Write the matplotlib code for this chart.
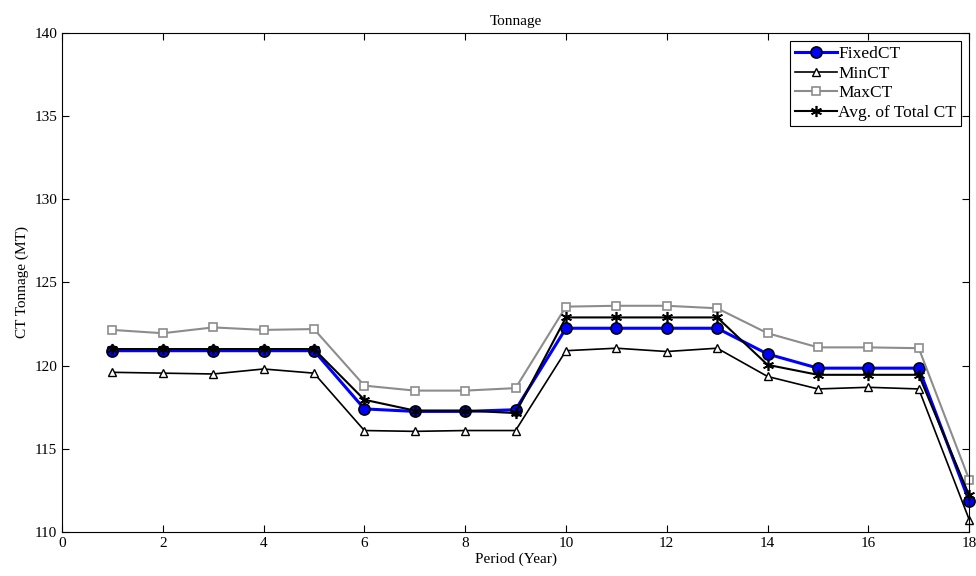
import matplotlib
matplotlib.use('Agg')
import matplotlib.pyplot as plt

periods = list(range(1, 19))
fixed_ct = [120.9, 120.9, 120.9, 120.9, 120.9, 117.4, 117.25, 117.25, 117.35,
            122.25, 122.25, 122.25, 122.25, 120.7, 119.85, 119.85, 119.85, 111.85]
min_ct = [119.6, 119.55, 119.5, 119.8, 119.55, 116.1, 116.05, 116.1, 116.1,
          120.9, 121.05, 120.85, 121.05, 119.35, 118.6, 118.7, 118.6, 110.75]
max_ct = [122.15, 121.95, 122.3, 122.15, 122.2, 118.8, 118.5, 118.5, 118.65,
          123.55, 123.6, 123.6, 123.45, 121.95, 121.1, 121.1, 121.05, 113.15]
avg_ct = [121.0, 121.0, 121.0, 121.0, 121.0, 117.95, 117.3, 117.3, 117.15,
          122.9, 122.9, 122.9, 122.9, 120.05, 119.45, 119.45, 119.45, 112.2]

plt.rcParams['font.family'] = ['Liberation Serif', 'DejaVu Serif']
plt.rcParams['font.size'] = 11

fig = plt.figure(figsize=(9.76, 5.76), dpi=100)
ax = fig.add_axes([0.0635, 0.0764, 0.9295, 0.8663])

ax.plot(periods, fixed_ct, color='#0000ff', lw=2.2, marker='o', ms=8,
        mfc='#0000ff', mec='black', mew=1.2, label='FixedCT', clip_on=False)
ax.plot(periods, min_ct, color='black', lw=1.2, marker='^', ms=6,
        mfc='white', mec='black', mew=1.0, label='MinCT', clip_on=False)
ax.plot(periods, max_ct, color='#8c8c8c', lw=1.5, marker='s', ms=6,
        mfc='white', mec='#8c8c8c', mew=1.2, label='MaxCT', clip_on=False)
ax.plot(periods, avg_ct, color='black', lw=1.5, marker=(6, 2, 0), ms=8,
        mec='black', mew=1.2, label='Avg. of Total CT', clip_on=False)

ax.set_xlim(0, 18)
ax.set_ylim(110, 140)
ax.set_xticks(range(0, 19, 2))
ax.set_yticks(range(110, 141, 5))
ax.tick_params(direction='in', top=True, right=True, length=5, labelsize=11)
ax.set_title('Tonnage', fontsize=11)
ax.set_xlabel('Period (Year)', labelpad=2)
ax.set_ylabel('CT Tonnage (MT)')

leg = ax.legend(loc='upper right', fontsize=12.5, fancybox=False, framealpha=1,
                edgecolor='black', handlelength=2.4, handletextpad=0.1,
                borderpad=0.3, labelspacing=0.2, borderaxespad=0.45)
leg.get_frame().set_linewidth(0.8)

plt.savefig('out.png', dpi=100)
